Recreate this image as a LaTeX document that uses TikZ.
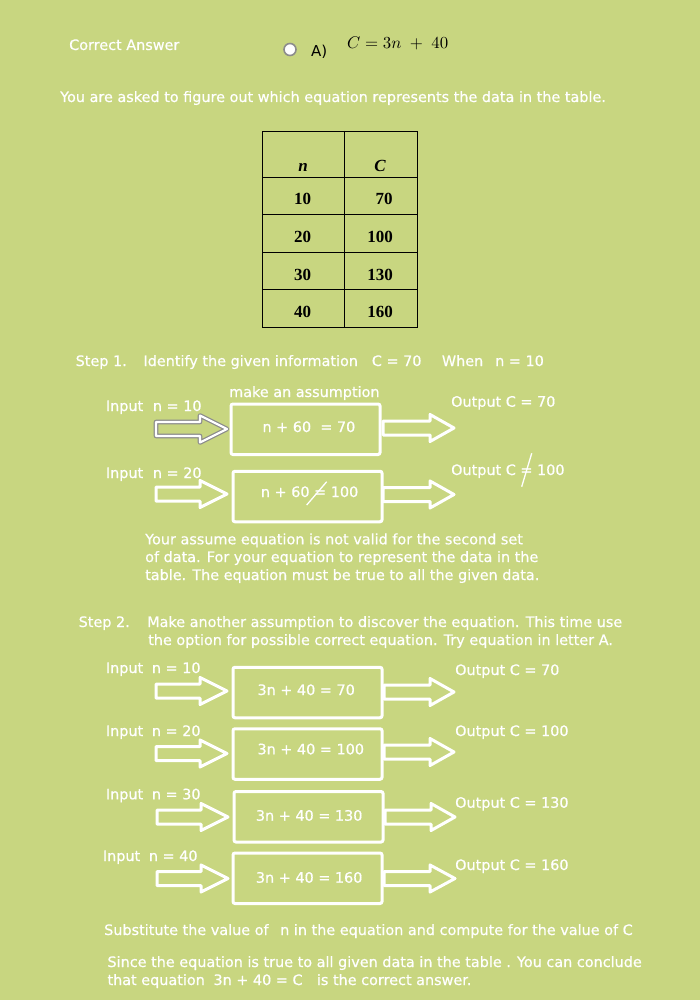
\documentclass[tikz,border=0pt]{standalone}
\usepackage{fontspec}
\setmainfont{DejaVu Sans}
\newfontfamily\wfont{DejaVu Sans}[FakeBold=0.6]
\newfontfamily\tabfont{Liberation Serif}
\usepackage{graphicx}
\definecolor{bg}{RGB}{200,214,128}
\definecolor{ringgray}{RGB}{140,140,140}
\newcommand\blockarr[5][arrowline]{%
  \draw[#1] (#2,#5-7) -- (#3,#5-7) -- (#3,#5-13.5) -- (#4,#5) -- (#3,#5+13.5) -- (#3,#5+7) -- (#2,#5+7) -- cycle;}
\tikzset{
  wt/.style={anchor=base west, inner sep=0pt, text=white, font=\wfont\fontsize{14.4}{17}\selectfont},
  bt/.style={anchor=base west, inner sep=0pt, text=black, font=\fontsize{15}{18}\selectfont},
  tt/.style={anchor=base, inner sep=0pt, text=black, font=\tabfont\bfseries\fontsize{17}{20}\selectfont},
  eqbox/.style={draw=white, line width=3pt, rounded corners=2pt, inner sep=0pt, minimum width=149pt, minimum height=50.5pt},
  arrowline/.style={draw=white, line width=3pt, line join=round},
  grayline/.style={draw=ringgray, line width=4.6pt, line join=round},
  tline/.style={draw=black, line width=0.9pt},
  slash/.style={draw=white, line width=1.3pt}
}
\begin{document}
\begin{tikzpicture}[x=1pt,y=-1pt]
\fill[bg] (0,0) rectangle (700,1000);
\useasboundingbox (0,0) rectangle (700,1000);

% header
\node[wt] (ca) at (69,50) {Correct Answer};
\node[circle, draw=ringgray, fill=white, line width=1.6pt, minimum size=12pt, inner sep=0pt] (radio) at (290,49.5) {};
\node[bt] (optA) at (311,57) {A)};
\node[anchor=base west, inner sep=0pt] (eqA) at (347,49) {\resizebox{101pt}{!}{$C = 3n\;+\;40$}};
\node[wt] (intro) at (60,102) {You are asked to figure out which equation represents the data in the table.};

% table
\draw[tline] (262.5,131) rectangle (417,327.5);
\foreach \yy in {177.5,214.5,252,289.5} \draw[tline] (262.5,\yy) -- (417,\yy);
\draw[tline] (344.5,131) -- (344.5,327.5);
\node[tt] (hn) at (303,171.5) {\itshape n};
\node[tt] (hc) at (380,171.5) {\itshape C};
\node[tt] (n1) at (302.5,205) {10};
\node[tt] (c1) at (384,205) {70};
\node[tt] (n2) at (302.5,242) {20};
\node[tt] (c2) at (380,242) {100};
\node[tt] (n3) at (302.5,280) {30};
\node[tt] (c3) at (380,280) {130};
\node[tt] (n4) at (302.5,317) {40};
\node[tt] (c4) at (380,317) {160};

% step 1
\node[wt] (s1a) at (75.5,366) {Step 1.};
\node[wt] (s1b) at (143.3,366) {Identify the given information};
\node[wt] (s1c) at (371.7,366) {C = 70};
\node[wt] (s1d) at (441.7,366) {When};
\node[wt] (s1e) at (495,366) {n = 10};

\node[wt] (assume) at (229,397) {make an assumption};
\node[wt] (in1a) at (105.7,411) {Input};
\node[wt] (in1b) at (152.7,411) {n = 10};
\node[wt] (out1) at (451,406.7) {Output C = 70};
\node[eqbox] (b1) at (305.5,429.25) {};
\node[wt] (e1) at (262.3,432) {n + 60\ \ = 70};
\blockarr[grayline]{156}{200}{227}{429}
\blockarr[arrowline, line width=2.2pt]{156}{200}{227}{429}
\blockarr{383}{430}{454}{428}

\node[wt] (in2a) at (105.7,478) {Input};
\node[wt] (in2b) at (152.7,478) {n = 20};
\node[wt] (out2) at (451,475) {Output C = 100};
\node[eqbox] (b2) at (307.5,496.5) {};
\node[wt] (e2) at (260.7,497) {n + 60 = 100};
\draw[slash] (306.7,505) -- (326.7,481.7);
\draw[slash] (521.7,486.7) -- (531.7,453.3);
\blockarr{156}{200}{227}{494}
\blockarr{383}{430}{454}{494.5}

\node[wt] (p1) at (145,544.3) {Your assume equation is not valid for the second set};
\node[wt] (p2) at (145,562) {of data. For your equation to represent the data in the};
\node[wt] (p3) at (145,580) {table. The equation must be true to all the given data.};

% step 2
\node[wt] (s2a) at (78.5,627) {Step 2.};
\node[wt] (s2b) at (147,627) {Make another assumption to discover the equation. This time use};
\node[wt] (s2c) at (148,645) {the option for possible correct equation. Try equation in letter A.};

\node[wt] (r1a) at (105.7,673) {Input};
\node[wt] (r1b) at (151.7,673) {n = 10};
\node[eqbox] (q1) at (307.5,692.5) {};
\node[wt] (f1) at (257.3,695) {3n + 40 = 70};
\node[wt] (o1) at (455,675) {Output C = 70};
\blockarr{156}{200}{227}{691}
\blockarr{384}{430}{454}{692}

\node[wt] (r2a) at (105.7,736) {Input};
\node[wt] (r2b) at (151.7,736) {n = 20};
\node[eqbox] (q2) at (307.5,754) {};
\node[wt] (f2) at (257.3,754.3) {3n + 40 = 100};
\node[wt] (o2) at (455,736) {Output C = 100};
\blockarr{156}{200}{227}{753.5}
\blockarr{384}{430}{454}{752}

\node[wt] (r3a) at (105.7,799.3) {Input};
\node[wt] (r3b) at (151.7,799.3) {n = 30};
\node[eqbox] (q3) at (308.5,816.75) {};
\node[wt] (f3) at (255.7,820.7) {3n + 40 = 130};
\node[wt] (o3) at (455,807.7) {Output C = 130};
\blockarr{157}{201}{228}{817}
\blockarr{385}{431}{455}{817}

\node[wt] (r4a) at (102.7,861) {Input};
\node[wt] (r4b) at (148.7,861) {n = 40};
\node[eqbox] (q4) at (307.5,878.25) {};
\node[wt] (f4) at (255.7,882.7) {3n + 40 = 160};
\node[wt] (o4) at (455,870) {Output C = 160};
\blockarr{157}{201}{228}{878.5}
\blockarr{384}{430}{455}{878.5}

% footer
\node[wt] (sub1) at (104,935) {Substitute the value of};
\node[wt] (sub2) at (280,935) {n in the equation and compute for the value of C};
\node[wt] (con1) at (107.3,967) {Since the equation is true to all given data in the table . You can conclude};
\node[wt] (con2) at (107.3,985) {that equation};
\node[wt] (con3) at (213.3,985) {3n + 40 = C};
\node[wt] (con4) at (316.7,985) {is the correct answer.};
\end{tikzpicture}
\end{document}
